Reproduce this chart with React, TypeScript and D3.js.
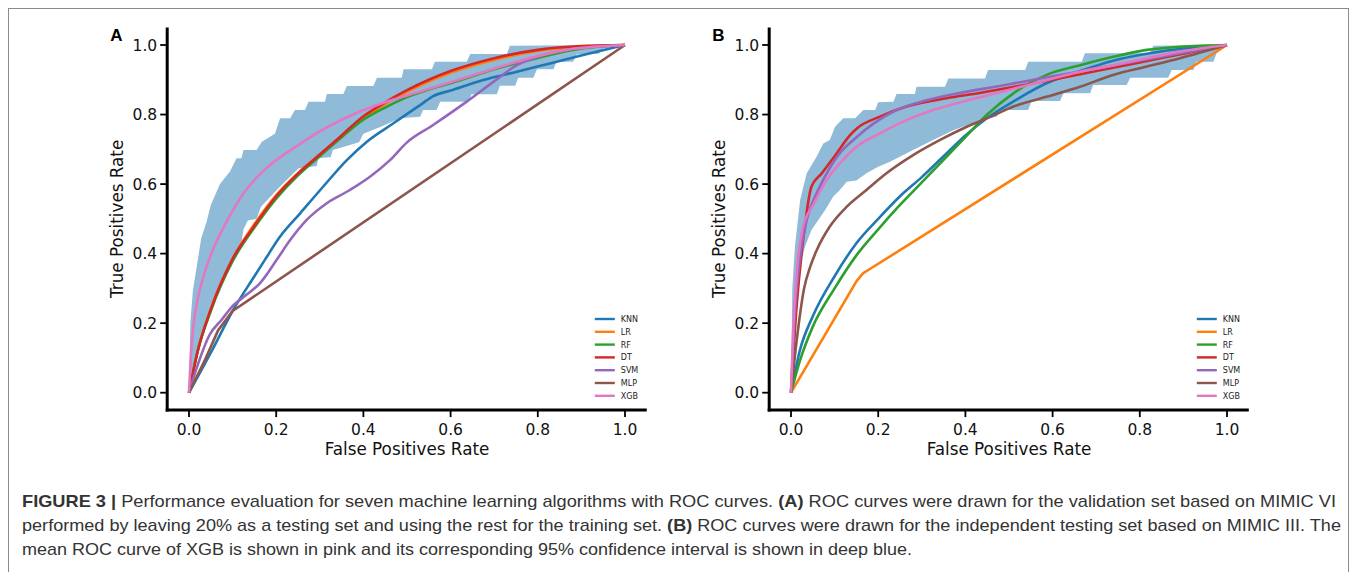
import React from 'react'
import * as d3 from 'd3'

const models = ['KNN', 'LR', 'RF', 'DT', 'SVM', 'MLP', 'XGB']
const colors = ['#1f77b4', '#ff7f0e', '#2ca02c', '#d62728', '#9467bd', '#8c564b', '#e377c2']
const ticks = [0, 0.2, 0.4, 0.6, 0.8, 1.0]

// ---- panel A: validation set (MIMIC) ----
const knnA = [[0, 0], [0.05, 0.115], [0.1, 0.235], [0.15, 0.335], [0.174, 0.382], [0.209, 0.449], [0.255, 0.516], [0.308, 0.593], [0.362, 0.669], [0.408, 0.722], [0.469, 0.775], [0.53, 0.827], [0.56, 0.853], [0.6, 0.869], [0.675, 0.899], [0.752, 0.923], [0.828, 0.947], [0.904, 0.971], [1, 1]]
const lrA = [[0, 0], [0.02, 0.12], [0.05, 0.24], [0.1, 0.385], [0.15, 0.485], [0.2, 0.568], [0.25, 0.632], [0.3, 0.685], [0.35, 0.735], [0.4, 0.79], [0.45, 0.83], [0.5, 0.865], [0.55, 0.895], [0.6, 0.92], [0.7, 0.957], [0.8, 0.983], [0.9, 0.996], [1, 1]]
const rfA = [[0, 0], [0.02, 0.12], [0.05, 0.235], [0.1, 0.378], [0.15, 0.475], [0.2, 0.558], [0.25, 0.625], [0.3, 0.68], [0.35, 0.735], [0.4, 0.785], [0.45, 0.82], [0.5, 0.85], [0.55, 0.872], [0.6, 0.89], [0.7, 0.93], [0.8, 0.963], [0.9, 0.99], [1, 1]]
const dtA = [[0, 0], [0.02, 0.12], [0.05, 0.24], [0.1, 0.385], [0.15, 0.48], [0.2, 0.565], [0.25, 0.63], [0.3, 0.685], [0.35, 0.74], [0.4, 0.795], [0.45, 0.835], [0.5, 0.87], [0.55, 0.9], [0.6, 0.925], [0.7, 0.962], [0.8, 0.986], [0.9, 0.997], [1, 1]]
const svmA = [[0, 0], [0.02, 0.08], [0.047, 0.166], [0.075, 0.21], [0.097, 0.245], [0.13, 0.28], [0.162, 0.314], [0.2, 0.38], [0.232, 0.439], [0.27, 0.497], [0.316, 0.545], [0.369, 0.583], [0.415, 0.621], [0.461, 0.669], [0.5, 0.72], [0.56, 0.77], [0.637, 0.837], [0.698, 0.894], [0.752, 0.942], [0.805, 0.968], [0.866, 0.986], [1, 1]]
const mlpA = [[0, 0], [0.035, 0.09], [0.067, 0.18], [0.1, 0.235], [1, 1]]
const xgbA = [[0, 0], [0.005, 0.12], [0.01, 0.19], [0.02, 0.27], [0.03, 0.32], [0.048, 0.39], [0.079, 0.475], [0.1, 0.523], [0.132, 0.585], [0.16, 0.625], [0.186, 0.655], [0.247, 0.709], [0.308, 0.757], [0.385, 0.805], [0.453, 0.837], [0.53, 0.866], [0.6, 0.893], [0.7, 0.932], [0.789, 0.965], [0.866, 0.986], [1, 1]]

// 95% CI of XGB, panel A
const bandUpperA = [[0, 0], [0.003, 0.2], [0.009, 0.295], [0.02, 0.38], [0.028, 0.444], [0.04, 0.49], [0.05, 0.54], [0.071, 0.6], [0.094, 0.636], [0.109, 0.674], [0.12, 0.674], [0.125, 0.698], [0.155, 0.698], [0.167, 0.722], [0.197, 0.745], [0.209, 0.789], [0.232, 0.789], [0.243, 0.813], [0.266, 0.813], [0.274, 0.837], [0.312, 0.837], [0.316, 0.859], [0.354, 0.859], [0.362, 0.882], [0.423, 0.882], [0.431, 0.906], [0.488, 0.906], [0.492, 0.93], [0.557, 0.93], [0.564, 0.952], [0.637, 0.952], [0.645, 0.974], [0.729, 0.974], [0.736, 0.998], [1, 1]]
const bandLowerA = [[0, 0], [0.01, 0.06], [0.03, 0.17], [0.05, 0.25], [0.08, 0.33], [0.1, 0.38], [0.12, 0.43], [0.125, 0.47], [0.135, 0.495], [0.155, 0.5], [0.165, 0.535], [0.209, 0.593], [0.251, 0.645], [0.293, 0.652], [0.297, 0.674], [0.325, 0.678], [0.33, 0.698], [0.39, 0.72], [0.4, 0.745], [0.44, 0.765], [0.484, 0.789], [0.53, 0.794], [0.537, 0.813], [0.568, 0.813], [0.576, 0.837], [0.641, 0.837], [0.648, 0.858], [0.706, 0.858], [0.713, 0.883], [0.748, 0.883], [0.755, 0.906], [0.79, 0.906], [0.798, 0.93], [0.836, 0.93], [0.843, 0.952], [0.881, 0.952], [0.889, 0.973], [0.94, 0.975], [0.95, 0.99], [1, 1]]

// ---- panel B: independent testing set (MIMIC III) ----
const knnB = [[0, 0], [0.02, 0.12], [0.05, 0.22], [0.1, 0.335], [0.15, 0.43], [0.2, 0.5], [0.25, 0.565], [0.3, 0.62], [0.35, 0.68], [0.4, 0.74], [0.45, 0.79], [0.5, 0.83], [0.586, 0.89], [0.663, 0.925], [0.739, 0.955], [0.816, 0.975], [0.9, 0.99], [1, 1]]
const lrB = [[0, 0], [0.15, 0.32], [0.165, 0.343], [0.18, 0.355], [1, 1]]
const rfB = [[0, 0], [0.02, 0.09], [0.05, 0.19], [0.1, 0.3], [0.15, 0.395], [0.2, 0.47], [0.25, 0.54], [0.3, 0.605], [0.35, 0.67], [0.4, 0.735], [0.45, 0.8], [0.51, 0.861], [0.586, 0.914], [0.663, 0.942], [0.739, 0.966], [0.816, 0.986], [0.892, 0.995], [1, 1]]
const dtB = [[0, 0], [0.013, 0.25], [0.028, 0.44], [0.047, 0.593], [0.07, 0.63], [0.1, 0.68], [0.135, 0.74], [0.151, 0.76], [0.204, 0.794], [0.265, 0.823], [0.357, 0.847], [0.433, 0.862], [0.5, 0.877], [0.6, 0.9], [0.7, 0.925], [0.8, 0.95], [0.9, 0.975], [1, 1]]
const svmB = [[0, 0], [0.01, 0.25], [0.02, 0.38], [0.036, 0.497], [0.059, 0.574], [0.082, 0.631], [0.112, 0.689], [0.143, 0.727], [0.189, 0.774], [0.242, 0.813], [0.311, 0.841], [0.387, 0.862], [0.479, 0.882], [0.6, 0.91], [0.7, 0.932], [0.8, 0.955], [0.9, 0.978], [1, 1]]
const mlpB = [[0, 0], [0.013, 0.15], [0.03, 0.3], [0.044, 0.362], [0.059, 0.41], [0.089, 0.478], [0.128, 0.535], [0.173, 0.583], [0.219, 0.631], [0.281, 0.684], [0.342, 0.727], [0.403, 0.765], [0.464, 0.797], [0.51, 0.823], [0.586, 0.851], [0.663, 0.88], [0.739, 0.914], [0.816, 0.938], [0.892, 0.962], [1, 1]]
const xgbB = [[0, 0], [0.005, 0.18], [0.013, 0.34], [0.028, 0.478], [0.051, 0.54], [0.082, 0.612], [0.112, 0.66], [0.151, 0.708], [0.204, 0.746], [0.265, 0.784], [0.326, 0.813], [0.402, 0.84], [0.479, 0.864], [0.586, 0.899], [0.663, 0.923], [0.739, 0.942], [0.816, 0.962], [0.892, 0.981], [1, 1]]

const bandUpperB = [[0, 0], [0.003, 0.3], [0.009, 0.42], [0.021, 0.554], [0.036, 0.631], [0.059, 0.679], [0.074, 0.717], [0.089, 0.727], [0.101, 0.765], [0.12, 0.789], [0.147, 0.789], [0.166, 0.813], [0.193, 0.813], [0.2, 0.835], [0.235, 0.837], [0.242, 0.859], [0.284, 0.859], [0.288, 0.88], [0.353, 0.88], [0.361, 0.904], [0.445, 0.904], [0.452, 0.928], [0.537, 0.928], [0.544, 0.952], [0.667, 0.952], [0.674, 0.976], [0.823, 0.976], [0.831, 0.998], [1, 1]]
const bandLowerB = [[0, 0], [0.005, 0.15], [0.01, 0.28], [0.02, 0.36], [0.032, 0.42], [0.047, 0.468], [0.078, 0.525], [0.097, 0.564], [0.11, 0.58], [0.128, 0.607], [0.15, 0.61], [0.173, 0.631], [0.2, 0.65], [0.227, 0.664], [0.288, 0.703], [0.326, 0.727], [0.372, 0.755], [0.403, 0.769], [0.449, 0.789], [0.472, 0.794], [0.479, 0.813], [0.544, 0.813], [0.552, 0.839], [0.617, 0.839], [0.625, 0.861], [0.686, 0.861], [0.693, 0.885], [0.77, 0.885], [0.778, 0.906], [0.865, 0.906], [0.873, 0.928], [0.923, 0.928], [0.93, 0.952], [0.969, 0.952], [0.976, 0.976], [1, 1]]

const curvesA = [knnA, lrA, rfA, dtA, svmA, mlpA, xgbA]
const curvesB = [knnB, lrB, rfB, dtB, svmB, mlpB, xgbB]

const axisFont = 'DejaVu Sans, Verdana, sans-serif'

type Pt = number[]

function Panel({ x0, label, curves, upper, lower, straight }: { x0: number; label: string; curves: Pt[][]; upper: Pt[]; lower: Pt[]; straight: string }) {
    // x0 = pixel position of fpr 0
    const w = 436
    const xScale = d3.scaleLinear().domain([0, 1]).range([x0, x0 + w])
    const yScale = d3.scaleLinear().domain([0, 1]).range([392.7, 45])
    const [xmin, xmax] = [xScale(-0.05), xScale(1.05)]
    const [ybot, ytop] = [yScale(-0.05), yScale(1.05)]

    const smooth = d3.line<Pt>().x(d => xScale(d[0])).y(d => yScale(d[1])).curve(d3.curveMonotoneX)
    const linear = d3.line<Pt>().x(d => xScale(d[0])).y(d => yScale(d[1]))
    const bandPath = linear([...upper, ...lower.slice().reverse()]) + 'Z'

    const legX = xmax - 52
    const legY = 319

    return (
        <g>
            <path d={bandPath} fill="#1f77b4" fillOpacity={0.5} stroke="none" />
            {curves.map((c, i) => (
                <path key={models[i]} d={(models[i] === straight ? linear(c) : smooth(c)) || ''}
                    fill="none" stroke={colors[i]} strokeWidth={2.6} strokeLinejoin="round" />
            ))}

            {/* spines */}
            <line x1={xmin} x2={xmin} y1={ytop} y2={ybot + 1.5} stroke="#000" strokeWidth={3} />
            <line x1={xmin - 1.5} x2={xmax} y1={ybot} y2={ybot} stroke="#000" strokeWidth={3} />

            {/* x ticks */}
            {ticks.map(t => (
                <g key={'x' + t}>
                    <line x1={xScale(t)} x2={xScale(t)} y1={ybot} y2={ybot + 7} stroke="#000" strokeWidth={1.8} />
                    <text x={xScale(t)} y={ybot + 25} textAnchor="middle" fontFamily={axisFont} fontSize={15.5} fill="#111">{d3.format('.1f')(t)}</text>
                </g>
            ))}
            {/* y ticks */}
            {ticks.map(t => (
                <g key={'y' + t}>
                    <line x1={xmin - 7} x2={xmin} y1={yScale(t)} y2={yScale(t)} stroke="#000" strokeWidth={1.8} />
                    <text x={xmin - 10} y={yScale(t) + 5.5} textAnchor="end" fontFamily={axisFont} fontSize={15.5} fill="#111">{d3.format('.1f')(t)}</text>
                </g>
            ))}

            <text x={(xmin + xmax) / 2} y={ybot + 45} textAnchor="middle" fontFamily={axisFont} fontSize={16.8} fill="#111">False Positives Rate</text>
            <text transform={`translate(${xmin - 44},${(ytop + ybot) / 2}) rotate(-90)`} textAnchor="middle" fontFamily={axisFont} fontSize={16.8} fill="#111">True Positives Rate</text>

            <text x={xmin - 57} y={41} fontFamily="Liberation Sans, Arial, sans-serif" fontWeight="bold" fontSize={17} fill="#000">{label}</text>

            {/* legend */}
            {models.map((m, i) => (
                <g key={'leg' + m}>
                    <line x1={legX} x2={legX + 20} y1={legY + i * 12.8} y2={legY + i * 12.8} stroke={colors[i]} strokeWidth={2.4} />
                    <text x={legX + 26} y={legY + i * 12.8 + 3} fontFamily={axisFont} fontSize={8} fill="#222">{m}</text>
                </g>
            ))}
        </g>
    )
}

export default function App() {
    const capFont = 'Liberation Sans, Arial, Helvetica, sans-serif'
    return (
        <svg width={1358} height={572} style={{ position: 'absolute', left: 0, top: 0, background: '#fff' }}>
            <rect x={8.5} y={8.5} width={1340} height={580} fill="none" stroke="#8a8a8a" strokeWidth={1} />
            <Panel x0={189} label="A" curves={curvesA} upper={bandUpperA} lower={bandLowerA} straight="MLP" />
            <Panel x0={791} label="B" curves={curvesB} upper={bandUpperB} lower={bandLowerB} straight="LR" />

            <g fontFamily={capFont} fontSize={17} fill="#333">
                <text x={22} y={507} textLength={1314} lengthAdjust="spacingAndGlyphs">
                    <tspan fontWeight="bold">FIGURE 3 |</tspan> Performance evaluation for seven machine learning algorithms with ROC curves. <tspan fontWeight="bold">(A)</tspan> ROC curves were drawn for the validation set based on MIMIC VI
                </text>
                <text x={22} y={531} textLength={1319} lengthAdjust="spacingAndGlyphs">
                    performed by leaving 20% as a testing set and using the rest for the training set. <tspan fontWeight="bold">(B)</tspan> ROC curves were drawn for the independent testing set based on MIMIC III. The
                </text>
                <text x={22} y={555} textLength={890} lengthAdjust="spacingAndGlyphs">
                    mean ROC curve of XGB is shown in pink and its corresponding 95% confidence interval is shown in deep blue.
                </text>
            </g>
        </svg>
    )
}
